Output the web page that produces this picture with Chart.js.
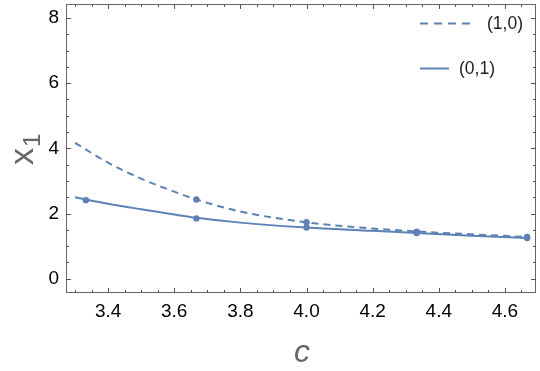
<!DOCTYPE html>
<html>
<head>
<meta charset="utf-8">
<script src="https://cdn.jsdelivr.net/npm/chart.js@4.4.0/dist/chart.umd.min.js"></script>
<style>
  html, body { margin: 0; padding: 0; background: #fff; }
  #wrap { position: relative; width: 540px; height: 371px; }
</style>
</head>
<body>
<div id="wrap"><canvas id="c" width="540" height="371"></canvas></div>
<script>
// ---- data ----
const curveC      = [3.3, 3.4, 3.5, 3.6, 3.667, 3.8, 4.0, 4.2, 4.333, 4.5, 4.667];
const curve10     = [4.17, 3.56, 3.07, 2.67, 2.43, 2.06, 1.73, 1.54, 1.45, 1.36, 1.28];
const curve01     = [2.50, 2.30, 2.13, 1.97, 1.87, 1.72, 1.57, 1.47, 1.40, 1.32, 1.25];
const pointsC01   = [3.333, 3.667, 4.0, 4.333, 4.667];
const points01    = [2.41, 1.85, 1.57, 1.40, 1.25];
const pointsC10   = [3.667, 4.0, 4.333, 4.667];
const points10    = [2.43, 1.73, 1.44, 1.28];
const seriesNames = ['(1,0)', '(0,1)'];
const xTicks      = [3.4, 3.6, 3.8, 4.0, 4.2, 4.4, 4.6];
const xTickLabels = ['3.4', '3.6', '3.8', '4.0', '4.2', '4.4', '4.6'];
const yTicks      = [0, 2, 4, 6, 8];
const yTickLabels = ['0', '2', '4', '6', '8'];
const xMinorStep  = 0.05;
const yMinorStep  = 0.5;
const xRange      = [3.2727, 4.694];
const yRange      = [-0.44, 8.43];

const COLOR = 'rgb(94,129,181)';
const FRAME = '#666';
const FONT  = '"Liberation Sans", Arial, sans-serif';

const zip = (xs, ys) => xs.map((x, i) => ({ x: x, y: ys[i] }));

const framePlugin = {
  id: 'frame',
  afterDraw(chart) {
    const ctx = chart.ctx, a = chart.chartArea;
    const xs = chart.scales.x, ys = chart.scales.y;
    ctx.save();
    ctx.strokeStyle = FRAME;
    ctx.lineWidth = 1;
    ctx.strokeRect(Math.round(a.left) + 0.5, Math.round(a.top) + 0.5,
                   Math.round(a.right - a.left) - 1, Math.round(a.bottom - a.top) - 1);
    ctx.strokeStyle = '#555';
    const x0 = Math.ceil(xRange[0] / xMinorStep) * xMinorStep;
    for (let v = x0; v <= xRange[1] + 1e-9; v += xMinorStep) {
      const isMajor = xTicks.some(t => Math.abs(t - v) < 1e-6);
      const len = isMajor ? 5 : 3;
      const px = Math.round(xs.getPixelForValue(v)) + 0.5;
      ctx.beginPath();
      ctx.moveTo(px, a.bottom); ctx.lineTo(px, a.bottom - len);
      ctx.moveTo(px, a.top); ctx.lineTo(px, a.top + len);
      ctx.stroke();
    }
    const y0 = Math.ceil(yRange[0] / yMinorStep) * yMinorStep;
    for (let v = y0; v <= yRange[1] + 1e-9; v += yMinorStep) {
      const isMajor = yTicks.some(t => Math.abs(t - v) < 1e-6);
      const len = isMajor ? 5 : 3;
      const py = Math.round(ys.getPixelForValue(v)) + 0.5;
      ctx.beginPath();
      ctx.moveTo(a.left, py); ctx.lineTo(a.left + len, py);
      ctx.moveTo(a.right, py); ctx.lineTo(a.right - len, py);
      ctx.stroke();
    }
    // axis titles
    ctx.fillStyle = '#666';
    ctx.textBaseline = 'alphabetic';
    ctx.font = 'italic 32px ' + FONT;
    ctx.textAlign = 'center';
    ctx.fillText('c', 302, 362);
    ctx.save();
    ctx.translate(33, 165);
    ctx.rotate(-Math.PI / 2);
    ctx.textAlign = 'left';
    ctx.font = '34px ' + FONT;
    ctx.fillText('x', 0, 0);
    const w = ctx.measureText('x').width;
    ctx.font = '24px ' + FONT;
    ctx.fillText('1', w + 1, 7);
    ctx.restore();
    // legend
    ctx.strokeStyle = COLOR;
    ctx.lineWidth = 2;
    ctx.setLineDash([8, 6]);
    ctx.beginPath(); ctx.moveTo(420, 23.5); ctx.lineTo(476, 23.5); ctx.stroke();
    ctx.setLineDash([]);
    ctx.beginPath(); ctx.moveTo(420, 68.5); ctx.lineTo(449, 68.5); ctx.stroke();
    ctx.fillStyle = '#222';
    ctx.font = '17.5px ' + FONT;
    ctx.textAlign = 'left';
    ctx.textBaseline = 'middle';
    ctx.fillText(seriesNames[0], 487, 24);
    ctx.fillText(seriesNames[1], 459, 69);
    ctx.restore();
  }
};

new Chart(document.getElementById('c'), {
  type: 'scatter',
  data: {
    datasets: [
      { label: seriesNames[0], data: zip(curveC, curve10), showLine: true, borderColor: COLOR,
        borderWidth: 2, borderDash: [7, 5], pointRadius: 0, cubicInterpolationMode: 'monotone', fill: false },
      { label: seriesNames[1], data: zip(curveC, curve01), showLine: true, borderColor: COLOR,
        borderWidth: 2, pointRadius: 0, cubicInterpolationMode: 'monotone', fill: false },
      { label: seriesNames[0] + ' pts', data: zip(pointsC10, points10), showLine: false,
        pointRadius: 3.2, pointBackgroundColor: COLOR, pointBorderWidth: 0, borderColor: COLOR },
      { label: seriesNames[1] + ' pts', data: zip(pointsC01, points01), showLine: false,
        pointRadius: 3.2, pointBackgroundColor: COLOR, pointBorderWidth: 0, borderColor: COLOR }
    ]
  },
  options: {
    responsive: false,
    animation: false,
    devicePixelRatio: 1,
    layout: { padding: { left: 0, right: 2, top: 2, bottom: 0 } },
    plugins: { legend: { display: false }, tooltip: { enabled: false } },
    scales: {
      x: {
        type: 'linear', min: xRange[0], max: xRange[1],
        grid: { display: false, drawTicks: false, tickLength: 0 },
        border: { display: false },
        afterBuildTicks: s => { s.ticks = xTicks.map(v => ({ value: v })); },
        afterFit: s => { s.height = 78; s.paddingLeft = 0; s.paddingRight = 0; },
        ticks: {
          autoSkip: false, maxRotation: 0, padding: 7, color: '#000',
          font: { family: FONT, size: 19 },
          callback: (v) => { const i = xTicks.findIndex(t => Math.abs(t - v) < 1e-6); return i >= 0 ? xTickLabels[i] : ''; }
        }
      },
      y: {
        type: 'linear', min: yRange[0], max: yRange[1],
        grid: { display: false, drawTicks: false, tickLength: 0 },
        border: { display: false },
        afterBuildTicks: s => { s.ticks = yTicks.map(v => ({ value: v })); },
        afterFit: s => { s.width = 66; s.paddingTop = 0; s.paddingBottom = 0; },
        ticks: {
          autoSkip: false, padding: 7, color: '#000',
          font: { family: FONT, size: 19 },
          callback: (v) => { const i = yTicks.findIndex(t => Math.abs(t - v) < 1e-6); return i >= 0 ? yTickLabels[i] : ''; }
        }
      }
    }
  },
  plugins: [framePlugin]
});
</script>
</body>
</html>
